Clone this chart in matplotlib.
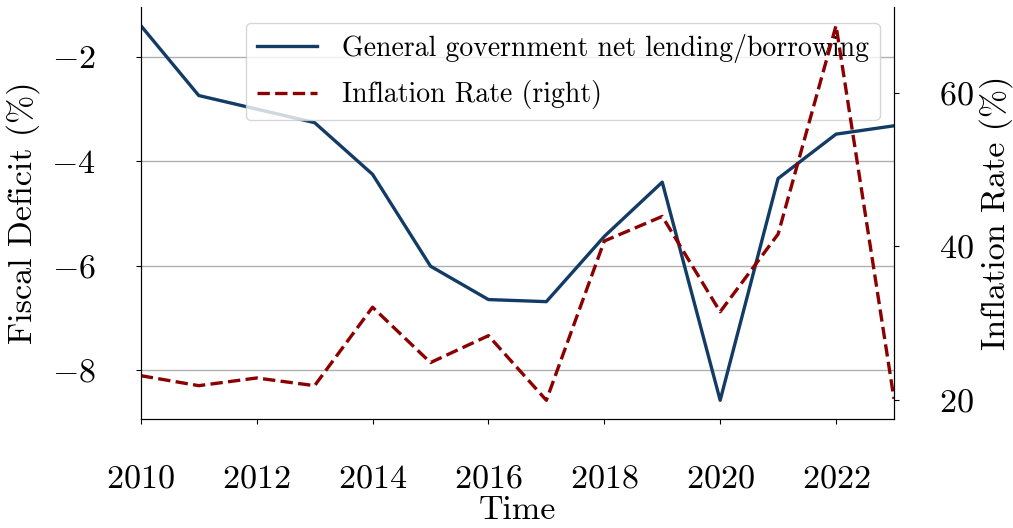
import matplotlib
matplotlib.use('Agg')
import matplotlib.pyplot as plt

plt.rcParams['font.family'] = 'cmr10'
plt.rcParams['mathtext.fontset'] = 'cm'
plt.rcParams['axes.formatter.use_mathtext'] = True

years = [2010, 2011, 2012, 2013, 2014, 2015, 2016, 2017, 2018, 2019, 2020, 2021, 2022, 2023]
fiscal_deficit = [-1.40, -2.74, -3.00, -3.26, -4.25, -6.01, -6.65, -6.69, -5.44, -4.40, -8.58, -4.33, -3.48, -3.32]
inflation = [23.2, 21.9, 22.9, 21.9, 32.1, 24.9, 28.4, 20.0, 40.7, 43.9, 31.5, 41.6, 68.7, 20.2]
xticks = [2010, 2012, 2014, 2016, 2018, 2020, 2022]

fig = plt.figure(figsize=(10.13, 5.28), dpi=100)
ax1 = fig.add_axes([0.139, 0.2064, 0.7435, 0.7806])

l1, = ax1.plot(years, fiscal_deficit, color='#123b66', lw=2.4,
               label='General government net lending/borrowing')
ax1.set_xlim(2010, 2023)
ax1.set_xticks(xticks)
ax1.set_yticks([-8, -6, -4, -2])
ax1.grid(axis='y', color='#b0b0b0', lw=1)
ax1.set_axisbelow(True)
ax1.spines['top'].set_visible(False)
ax1.tick_params(axis='both', labelsize=24.5, pad=29)
ax1.set_xlabel('Time', fontsize=24.5, labelpad=2)
ax1.set_ylabel('Fiscal Deficit (%)', fontsize=24.5, labelpad=8)

ax2 = ax1.twinx()
l2, = ax2.plot(years, inflation, color='#8b0000', lw=2.4, ls='--',
               label='Inflation Rate (right)')
ax2.set_yticks([20, 40, 60])
ax2.spines['top'].set_visible(False)
ax2.tick_params(axis='y', labelsize=24.5, pad=29)
ax2.set_ylabel('Inflation Rate (%)', fontsize=24.5, labelpad=4)

ax1.legend(handles=[l1, l2], loc='upper right', fontsize=20,
           bbox_to_anchor=(0.981, 0.961), borderaxespad=0,
           labelspacing=0.62, handlelength=2.15, handletextpad=0.9)

fig.savefig('out.png', dpi=100)
